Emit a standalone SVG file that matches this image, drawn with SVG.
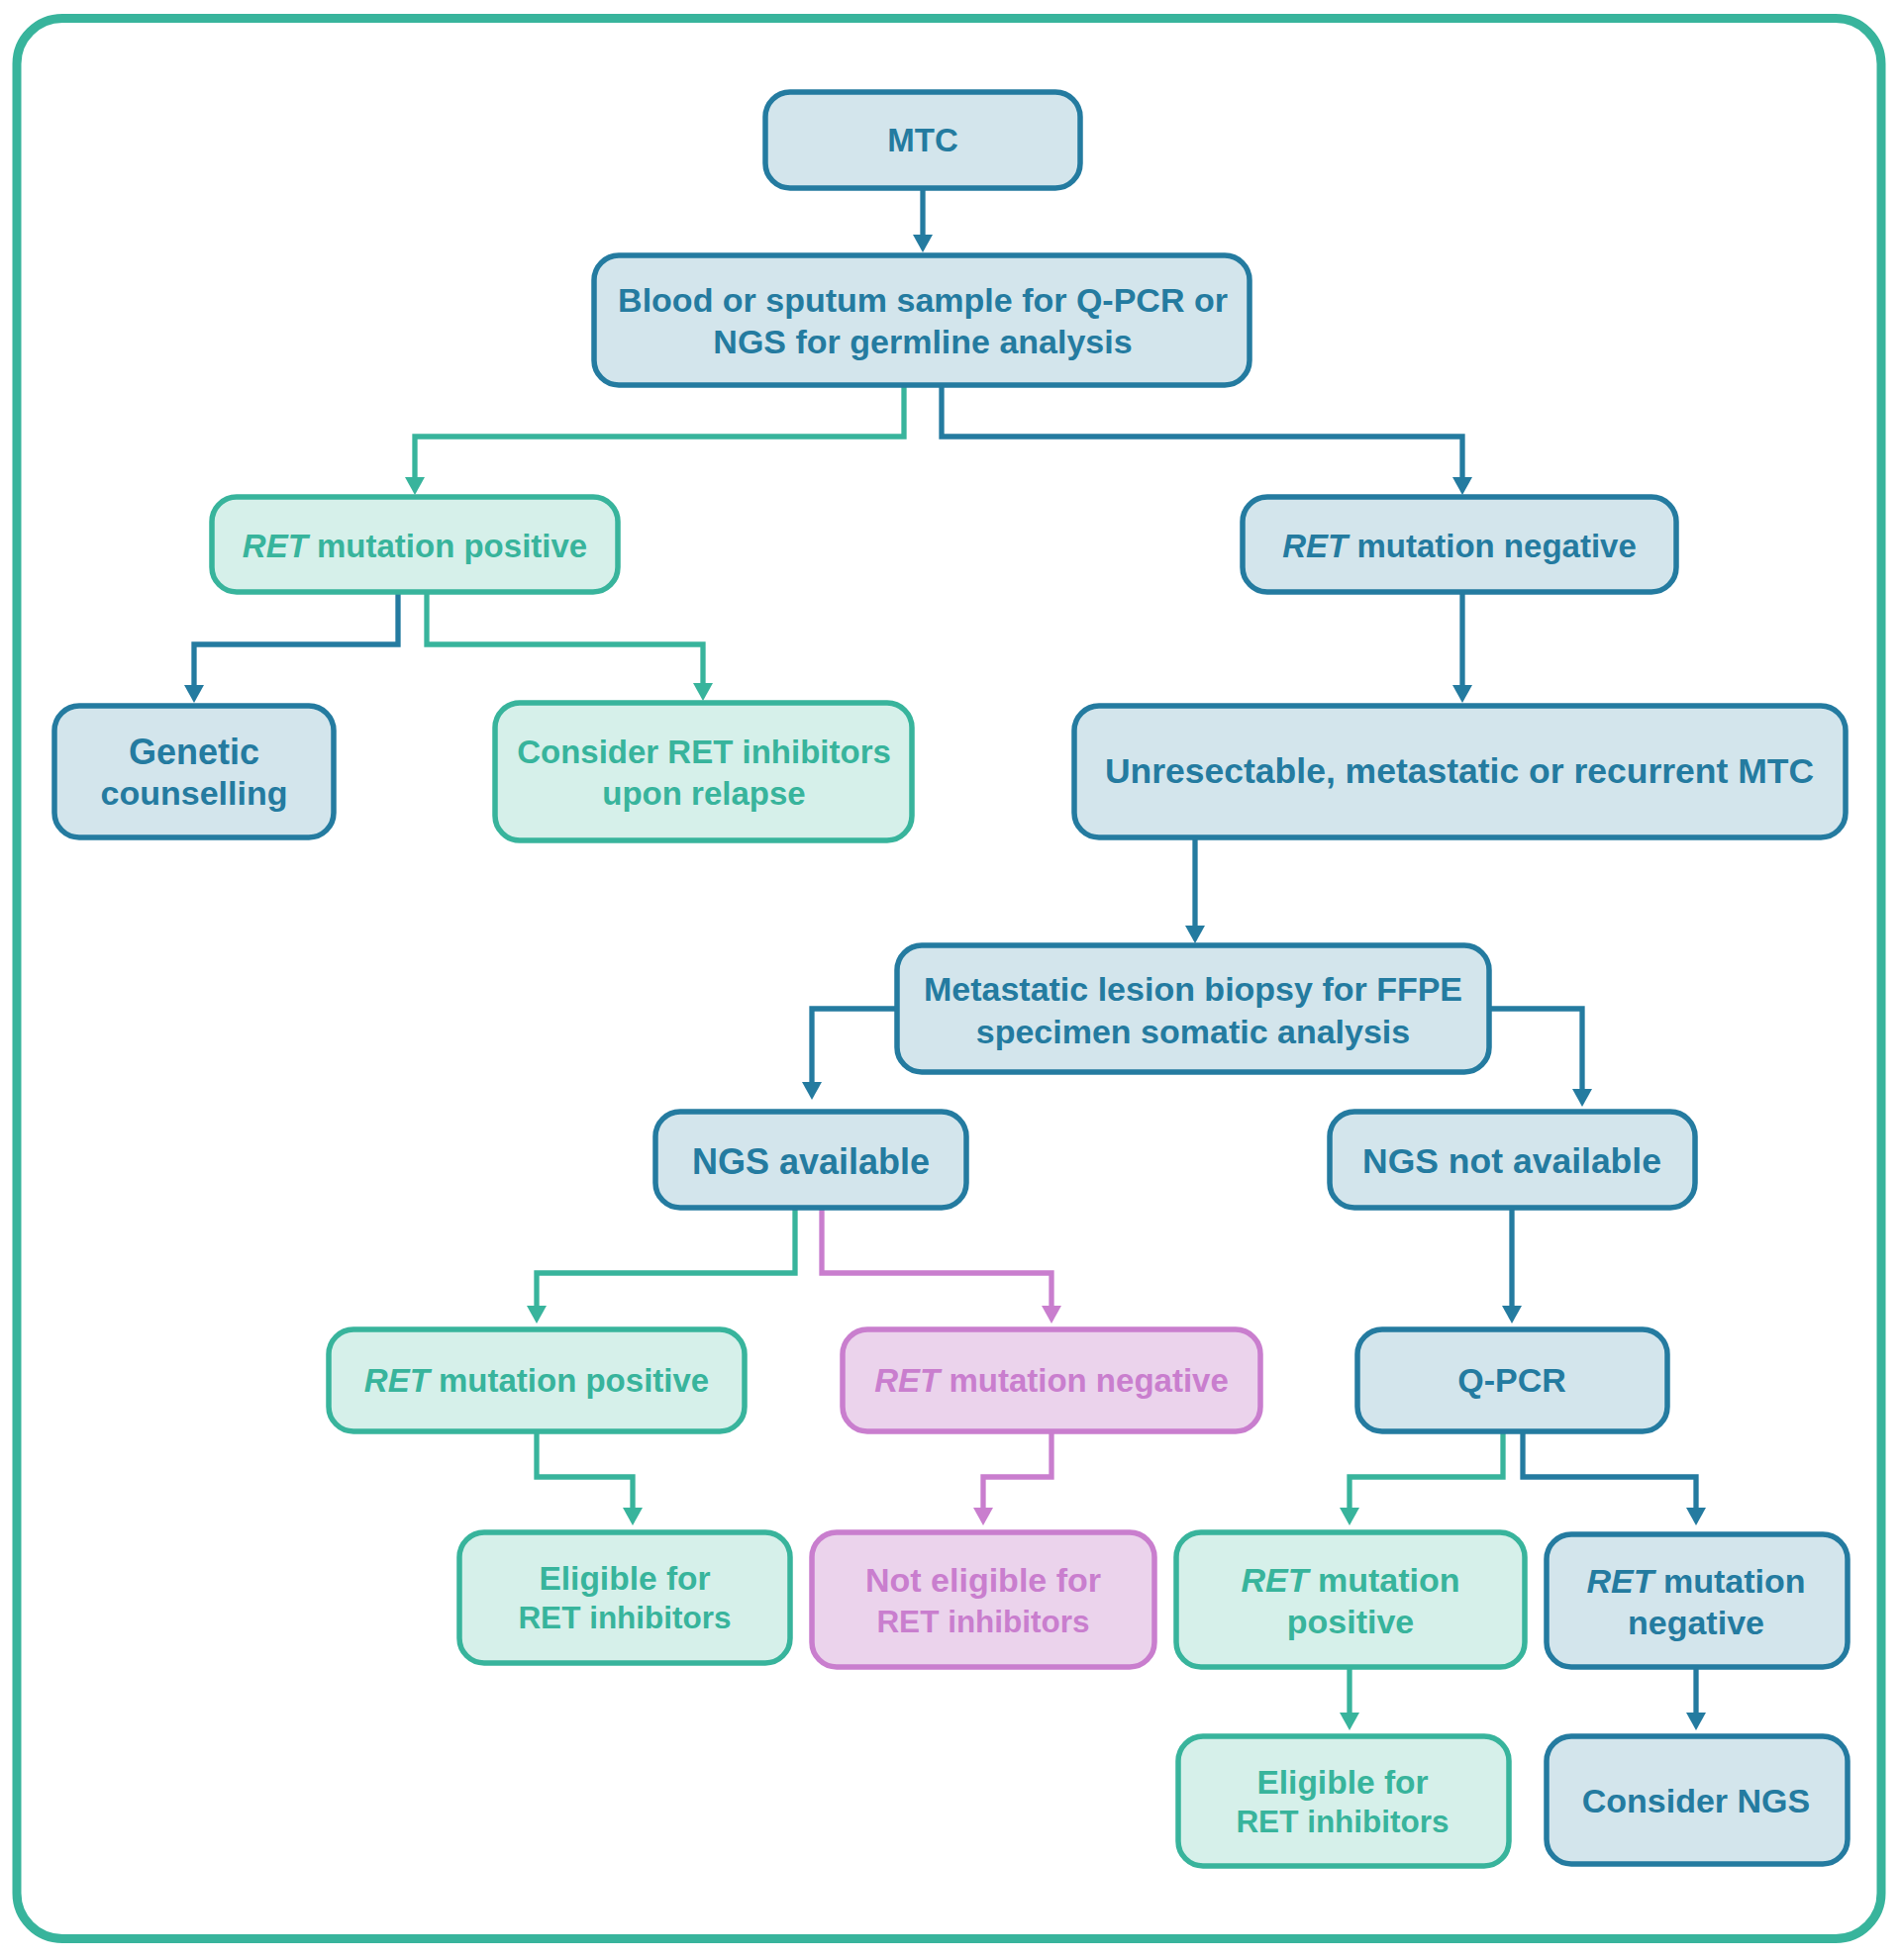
<svg xmlns="http://www.w3.org/2000/svg" width="1920" height="1980" viewBox="0 0 1920 1980">
<defs>
<style>
.b rect{fill:#D3E5EC;stroke:#247BA0;stroke-width:5.5}
.t rect{fill:#D6F0EA;stroke:#38B49C;stroke-width:5.5}
.p rect{fill:#EBD3EC;stroke:#C97ECE;stroke-width:5.5}
text{font-family:"Liberation Sans",Arial,sans-serif;font-weight:bold;font-size:34px;text-anchor:middle;dominant-baseline:central}
.b text{fill:#247BA0}
.t text{fill:#38B49C}
.p text{fill:#C97ECE}
.i{font-style:italic}
.cb{fill:none;stroke:#247BA0;stroke-width:5.3;marker-end:url(#ab)}
.ct{fill:none;stroke:#38B49C;stroke-width:5.3;marker-end:url(#at)}
.cp{fill:none;stroke:#C97ECE;stroke-width:5.3;marker-end:url(#ap)}
</style>
<marker id="ab" markerUnits="userSpaceOnUse" viewBox="0 0 18 20" refX="8" refY="10" markerWidth="18" markerHeight="20" orient="auto"><path d="M0,0 L18,10 L0,20 z" fill="#247BA0"/></marker>
<marker id="at" markerUnits="userSpaceOnUse" viewBox="0 0 18 20" refX="8" refY="10" markerWidth="18" markerHeight="20" orient="auto"><path d="M0,0 L18,10 L0,20 z" fill="#38B49C"/></marker>
<marker id="ap" markerUnits="userSpaceOnUse" viewBox="0 0 18 20" refX="8" refY="10" markerWidth="18" markerHeight="20" orient="auto"><path d="M0,0 L18,10 L0,20 z" fill="#C97ECE"/></marker>
</defs>
<rect x="0" y="0" width="1920" height="1980" fill="#FFFFFF"/>
<rect id="frame" x="17" y="18.5" width="1883" height="1940" rx="46" fill="#FFFFFF" stroke="#38B49C" stroke-width="9"/>

<g id="connectors">
<path class="cb" d="M932,190 V245"/>
<path class="ct" d="M913,389 V441 H419 V490"/>
<path class="cb" d="M951,389 V441 H1477 V490"/>
<path class="cb" d="M402,598 V651 H196 V700"/>
<path class="ct" d="M431,598 V651 H710 V698"/>
<path class="cb" d="M1477,598 V700"/>
<path class="cb" d="M1207,846 V943"/>
<path class="cb" d="M906,1019 H820 V1101"/>
<path class="cb" d="M1504,1019 H1598 V1108"/>
<path class="ct" d="M803,1220 V1286 H542 V1327"/>
<path class="cp" d="M830,1220 V1286 H1062 V1327"/>
<path class="cb" d="M1527,1220 V1327"/>
<path class="ct" d="M542,1446 V1492 H639 V1531"/>
<path class="cp" d="M1062,1446 V1492 H993 V1531"/>
<path class="ct" d="M1518,1446 V1492 H1363 V1531"/>
<path class="cb" d="M1538,1446 V1492 H1713 V1531"/>
<path class="ct" d="M1363,1684 V1738"/>
<path class="cb" d="M1713,1684 V1738"/>
</g>

<g id="mtc" class="b"><rect x="773" y="93" width="318" height="97" rx="25"/><text x="932" y="141" style="font-size:33px">MTC</text></g>
<g id="blood" class="b"><rect x="600" y="258" width="662" height="131" rx="25"/><text x="932" y="303">Blood or sputum sample for Q-PCR or</text><text x="932" y="345">NGS for germline analysis</text></g>
<g id="ret-pos-1" class="t"><rect x="214" y="502" width="410" height="96" rx="25"/><text x="419" y="551" style="font-size:33px"><tspan class="i">RET</tspan> mutation positive</text></g>
<g id="ret-neg-1" class="b"><rect x="1255" y="502" width="438" height="96" rx="25"/><text x="1474" y="551" style="font-size:33px"><tspan class="i">RET</tspan> mutation negative</text></g>
<g id="genetic" class="b"><rect x="55" y="713" width="282" height="133" rx="25"/><text x="196" y="759" style="font-size:36px">Genetic</text><text x="196" y="801">counselling</text></g>
<g id="consider-ret" class="t"><rect x="500" y="710" width="421" height="139" rx="25"/><text x="711" y="759" style="font-size:33px">Consider RET inhibitors</text><text x="711" y="801" style="font-size:33px">upon relapse</text></g>
<g id="unresectable" class="b"><rect x="1085" y="713" width="779" height="133" rx="25"/><text x="1474" y="779" style="font-size:35.5px">Unresectable, metastatic or recurrent MTC</text></g>
<g id="biopsy" class="b"><rect x="906" y="955" width="598" height="128" rx="25"/><text x="1205" y="999">Metastatic lesion biopsy for FFPE</text><text x="1205" y="1042">specimen somatic analysis</text></g>
<g id="ngs-avail" class="b"><rect x="662" y="1123" width="314" height="97" rx="25"/><text x="819" y="1173" style="font-size:36px">NGS available</text></g>
<g id="ngs-not" class="b"><rect x="1343" y="1123" width="369" height="97" rx="25"/><text x="1527" y="1173" style="font-size:35.5px">NGS not available</text></g>
<g id="ret-pos-2" class="t"><rect x="332" y="1343" width="420" height="103" rx="25"/><text x="542" y="1394" style="font-size:33px"><tspan class="i">RET</tspan> mutation positive</text></g>
<g id="ret-neg-2" class="p"><rect x="851" y="1343" width="422" height="103" rx="25"/><text x="1062" y="1394" style="font-size:33px"><tspan class="i">RET</tspan> mutation negative</text></g>
<g id="qpcr" class="b"><rect x="1371" y="1343" width="313" height="103" rx="25"/><text x="1527" y="1394">Q-PCR</text></g>
<g id="eligible-1" class="t"><rect x="464" y="1548" width="334" height="132" rx="25"/><text x="631" y="1594" style="font-size:33.5px">Eligible for</text><text x="631" y="1634" style="font-size:31.5px">RET inhibitors</text></g>
<g id="not-eligible" class="p"><rect x="820" y="1548" width="346" height="136" rx="25"/><text x="993" y="1596">Not eligible for</text><text x="993" y="1638" style="font-size:31.5px">RET inhibitors</text></g>
<g id="ret-pos-3" class="t"><rect x="1188" y="1548" width="352" height="136" rx="25"/><text x="1364" y="1596"><tspan class="i">RET</tspan> mutation</text><text x="1364" y="1638">positive</text></g>
<g id="ret-neg-3" class="b"><rect x="1562" y="1550" width="304" height="134" rx="25"/><text x="1713" y="1597"><tspan class="i">RET</tspan> mutation</text><text x="1713" y="1639">negative</text></g>
<g id="eligible-2" class="t"><rect x="1190" y="1754" width="334" height="131" rx="25"/><text x="1356" y="1800" style="font-size:33.5px">Eligible for</text><text x="1356" y="1840" style="font-size:31.5px">RET inhibitors</text></g>
<g id="consider-ngs" class="b"><rect x="1562" y="1754" width="304" height="129" rx="25"/><text x="1713" y="1819">Consider NGS</text></g>
</svg>
